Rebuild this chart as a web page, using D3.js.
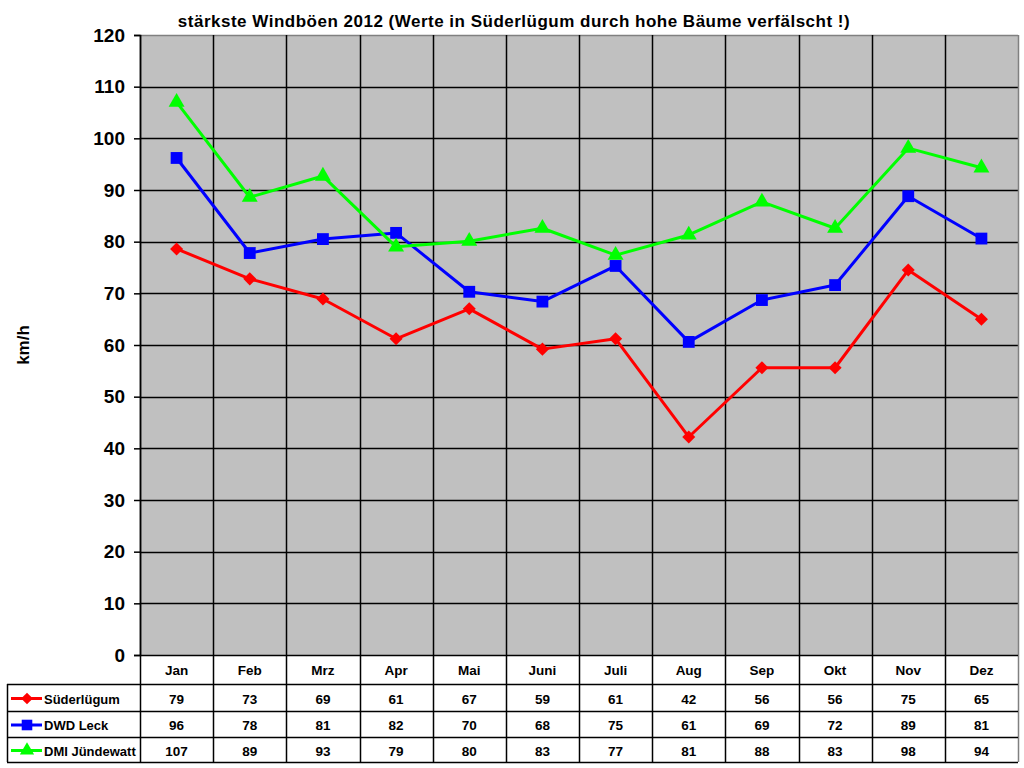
<!DOCTYPE html>
<html>
<head>
<meta charset="utf-8">
<script src="https://cdn.jsdelivr.net/npm/d3@7/dist/d3.min.js"></script>
<style>
  body { margin: 0; background: #fff; }
  text { font-family: Arial, "Liberation Sans", sans-serif; font-weight: bold; fill: #000; }
</style>
</head>
<body>
<svg id="chart" width="1024" height="768"></svg>
<script>
'use strict';

// data
var months = ["Jan", "Feb", "Mrz", "Apr", "Mai", "Juni", "Juli", "Aug", "Sep", "Okt", "Nov", "Dez"];
var seriesNames = ["Süderlügum", "DWD Leck", "DMI Jündewatt"];
var suederluegum = [78.6, 72.8, 68.9, 61.2, 67.0, 59.2, 61.2, 42.2, 55.6, 55.6, 74.5, 65.0];
var dwdLeck = [96.2, 77.8, 80.5, 81.7, 70.3, 68.4, 75.3, 60.6, 68.7, 71.6, 88.8, 80.6];
var dmiJuendewatt = [107.0, 88.6, 92.7, 79.0, 80.1, 82.6, 77.4, 81.3, 87.7, 82.6, 98.1, 94.3];
var yTicks = [0, 10, 20, 30, 40, 50, 60, 70, 80, 90, 100, 110, 120];

var colors = ["#ff0000", "#0000ff", "#00ff00"];
var shapes = [d3.symbolSquare, d3.symbolSquare, d3.symbolTriangle];
var symSize = [85, 140, 110];
var symRot = [45, 0, 0];

var series = seriesNames.map(function(n, i) {
  return { name: n, values: [suederluegum, dwdLeck, dmiJuendewatt][i], color: colors[i],
           shape: shapes[i], size: symSize[i], rot: symRot[i] };
});

var svg = d3.select("#chart");
var plot = { left: 140, right: 1018, top: 35, bottom: 655 };
var tableRows = [684, 711, 737, 762]; // bottom lines of header + 3 rows
var legendLeft = 7;

var x = d3.scaleBand().domain(months).range([plot.left, plot.right]);
var y = d3.scaleLinear().domain([0, 120]).range([plot.bottom, plot.top]);

// title
svg.append("text")
  .attr("x", 514).attr("y", 27)
  .attr("text-anchor", "middle")
  .style("font-size", "17px")
  .style("letter-spacing", "0.5px")
  .text("stärkste Windböen 2012 (Werte in Süderlügum durch hohe Bäume verfälscht !)");

// plot background
svg.append("rect")
  .attr("x", plot.left).attr("y", plot.top)
  .attr("width", plot.right - plot.left).attr("height", plot.bottom - plot.top)
  .attr("fill", "#c0c0c0");

// horizontal grid
svg.append("g").selectAll("line").data(yTicks.slice(1)).enter().append("line")
  .attr("x1", plot.left).attr("x2", plot.right)
  .attr("y1", function(d) { return Math.round(y(d)) + 0.5; })
  .attr("y2", function(d) { return Math.round(y(d)) + 0.5; })
  .attr("stroke", function(d) { return d === 120 ? "#808080" : "#000"; })
  .attr("stroke-width", 1.5);

// vertical lines at category boundaries, running through the data table
var bounds = months.map(function(m) { return x(m); }).concat([plot.right]);
svg.append("g").selectAll("line").data(bounds).enter().append("line")
  .attr("x1", function(d) { return Math.round(d) + 0.5; })
  .attr("x2", function(d) { return Math.round(d) + 0.5; })
  .attr("y1", plot.top).attr("y2", tableRows[3])
  .attr("stroke", function(d, i) { return i === 12 ? "#808080" : "#000"; })
  .attr("stroke-width", 1.5);

// y axis
var yAxis = d3.axisLeft(y).tickValues(yTicks).tickSize(6).tickPadding(9);
var ya = svg.append("g").attr("transform", "translate(" + plot.left + ",0)").call(yAxis);
ya.select(".domain").attr("stroke", "#000").attr("stroke-width", 1.5);
ya.selectAll(".tick line").attr("stroke", "#000").attr("stroke-width", 1.5);
ya.selectAll(".tick text").style("font-size", "19px").attr("fill", "#000").attr("font-family", null);

svg.append("text")
  .attr("transform", "translate(29,345) rotate(-90)")
  .attr("text-anchor", "middle")
  .style("font-size", "17px")
  .text("km/h");

// x axis line
svg.append("line")
  .attr("x1", plot.left).attr("x2", plot.right)
  .attr("y1", plot.bottom + 0.5).attr("y2", plot.bottom + 0.5)
  .attr("stroke", "#000").attr("stroke-width", 1.5);

// table horizontal lines
tableRows.forEach(function(r) {
  svg.append("line")
    .attr("x1", legendLeft).attr("x2", plot.right)
    .attr("y1", r + 0.5).attr("y2", r + 0.5)
    .attr("stroke", "#000").attr("stroke-width", 1.5);
});
svg.append("line")
  .attr("x1", legendLeft + 0.5).attr("x2", legendLeft + 0.5)
  .attr("y1", tableRows[0]).attr("y2", tableRows[3])
  .attr("stroke", "#000").attr("stroke-width", 1.5);

// month labels
svg.append("g").selectAll("text").data(months).enter().append("text")
  .attr("x", function(d) { return x(d) + x.bandwidth() / 2; })
  .attr("y", 675)
  .attr("text-anchor", "middle")
  .style("font-size", "13.5px")
  .text(function(d) { return d; });

// rows: legend key + values
var fmt = d3.format(".0f");
series.forEach(function(s, i) {
  var cy = (tableRows[i] + tableRows[i + 1]) / 2 + 1;
  var key = svg.append("g");
  key.append("line")
    .attr("x1", 11).attr("x2", 42).attr("y1", cy).attr("y2", cy)
    .attr("stroke", s.color).attr("stroke-width", 3);
  key.append("path")
    .attr("d", d3.symbol().type(s.shape).size(s.size * 0.8)())
    .attr("transform", "translate(27," + cy + ") rotate(" + s.rot + ")")
    .attr("fill", s.color);
  key.append("text")
    .attr("x", 44).attr("y", cy + 5)
    .style("font-size", "13px")
    .text(s.name);

  svg.append("g").selectAll("text").data(s.values).enter().append("text")
    .attr("x", function(d, j) { return x(months[j]) + x.bandwidth() / 2; })
    .attr("y", cy + 5)
    .attr("text-anchor", "middle")
    .style("font-size", "13.5px")
    .text(function(d) { return fmt(d); });
});

// lines and markers
var line = d3.line()
  .x(function(d, j) { return x(months[j]) + x.bandwidth() / 2; })
  .y(function(d) { return y(d); });

series.forEach(function(s) {
  svg.append("path")
    .datum(s.values)
    .attr("d", line)
    .attr("fill", "none")
    .attr("stroke", s.color)
    .attr("stroke-width", 3)
    .attr("stroke-linejoin", "round");
  svg.append("g").selectAll("path").data(s.values).enter().append("path")
    .attr("d", d3.symbol().type(s.shape).size(s.size)())
    .attr("transform", function(d, j) {
      return "translate(" + (x(months[j]) + x.bandwidth() / 2) + "," + y(d) + ") rotate(" + s.rot + ")";
    })
    .attr("fill", s.color);
});
</script>
</body>
</html>
